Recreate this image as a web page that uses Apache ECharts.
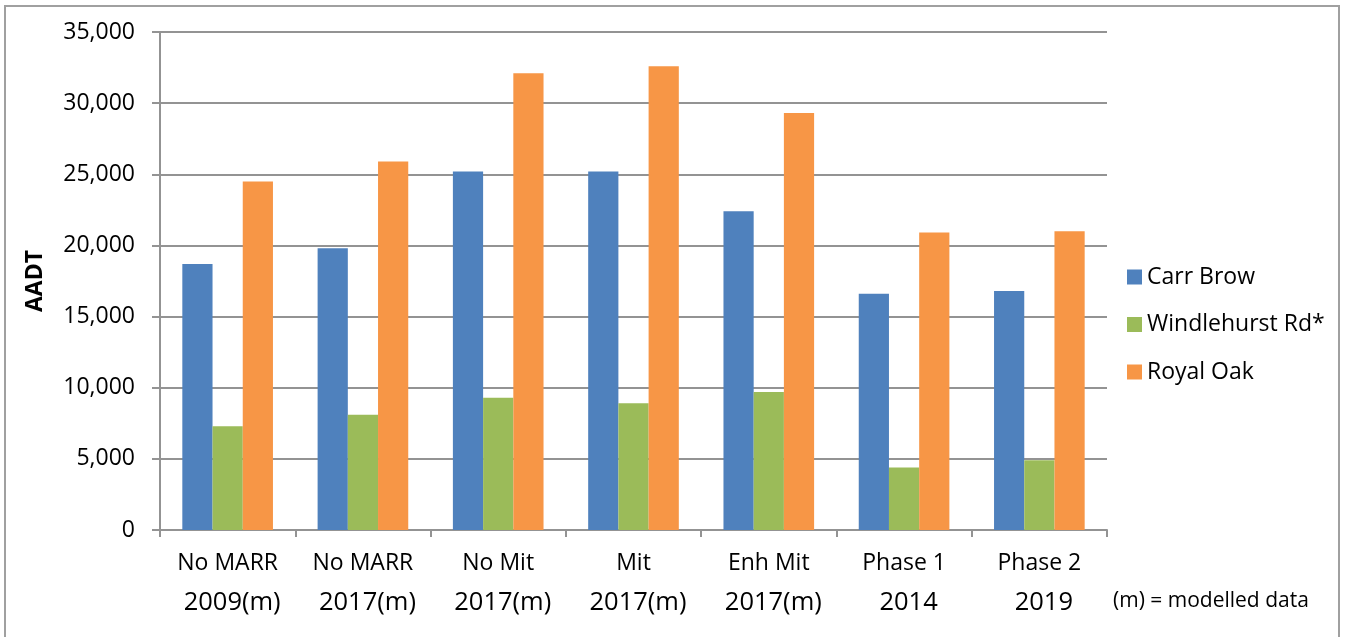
<!DOCTYPE html>
<html>
<head>
<meta charset="utf-8">
<script src="https://cdn.jsdelivr.net/npm/echarts@6/dist/echarts.min.js"></script>
<style>
  html, body { margin: 0; padding: 0; background: #fff; }
  #chart { width: 1346px; height: 637px; }
</style>
</head>
<body>
<div id="chart"></div>
<script>
// Scenario labels: name on the first line, year on the second
const scenarioNames = ['No MARR', 'No MARR', 'No Mit', 'Mit', 'Enh Mit', 'Phase 1', 'Phase 2'];
const scenarioYears = ['2009(m)', '2017(m)', '2017(m)', '2017(m)', '2017(m)', '2014', '2019'];

// Annual average daily traffic per site
const carrBrow = [18700, 19800, 25200, 25200, 22400, 16600, 16800];
const windlehurstRd = [7300, 8100, 9300, 8900, 9700, 4400, 4900];
const royalOak = [24500, 25900, 32100, 32600, 29300, 20900, 21000];

const seriesNames = ['Carr Brow', 'Windlehurst Rd*', 'Royal Oak'];
const seriesColors = ['#4F81BD', '#9BBB59', '#F79646'];

const yTicks = { min: 0, max: 35000, interval: 5000 };

const FONT = '"Open Sans", "Noto Sans", sans-serif';
const GRAY = '#939393';

const categories = scenarioNames.map((n, i) => n + '\n' + scenarioYears[i]);

const chart = echarts.init(document.getElementById('chart'), null, { renderer: 'canvas' });

const option = {
  backgroundColor: '#ffffff',
  animation: false,
  textStyle: { fontFamily: FONT, color: '#000' },
  grid: { left: 160, right: 239, top: 32, bottom: 107 },
  legend: {
    orient: 'vertical',
    left: 1122,
    top: 260,
    itemWidth: 15,
    itemHeight: 15,
    itemGap: 23.5,
    icon: 'rect',
    textStyle: { fontFamily: FONT, fontSize: 23, color: '#000', lineHeight: 24 },
    data: seriesNames
  },
  xAxis: {
    type: 'category',
    data: categories,
    axisLine: { show: true, lineStyle: { color: GRAY, width: 2 } },
    axisTick: { show: true, length: 7, lineStyle: { color: GRAY, width: 2 } },
    axisLabel: {
      margin: 13,
      interval: 0,
      formatter: function (v) {
        const parts = v.split('\n');
        return '{a|' + parts[0] + '}\n{b|' + parts[1] + '}';
      },
      rich: {
        a: { fontFamily: FONT, fontSize: 23, color: '#000', lineHeight: 40 },
        b: { fontFamily: FONT, fontSize: 25.5, color: '#000', lineHeight: 40, padding: [0, 0, 0, 9] }
      }
    }
  },
  yAxis: {
    type: 'value',
    min: yTicks.min,
    max: yTicks.max,
    interval: yTicks.interval,
    name: 'AADT',
    nameLocation: 'middle',
    nameRotate: 90,
    nameGap: 113,
    nameTextStyle: { fontFamily: FONT, fontSize: 23, fontWeight: 'bold', color: '#000' },
    axisLine: { show: true, lineStyle: { color: GRAY, width: 2 } },
    axisTick: { show: true, length: 8, lineStyle: { color: GRAY, width: 2 } },
    axisLabel: {
      margin: 25,
      fontFamily: FONT,
      fontSize: 23,
      color: '#000',
      formatter: function (v) { return v.toLocaleString('en-US'); }
    },
    splitLine: { show: true, lineStyle: { color: GRAY, width: 2 } }
  },
  series: [carrBrow, windlehurstRd, royalOak].map((data, i) => ({
    name: seriesNames[i],
    type: 'bar',
    data: data,
    barGap: '0%',
    barCategoryGap: '33%',
    itemStyle: { color: seriesColors[i] }
  })),
  graphic: [
    {
      type: 'rect',
      shape: { x: 5, y: 6, width: 1334, height: 700 },
      style: { fill: 'none', stroke: '#a0a0a0', lineWidth: 2 },
      silent: true
    },
    {
      type: 'text',
      left: 1113,
      top: 591,
      style: { text: '(m) = modelled data', fontFamily: FONT, fontSize: 21, fill: '#000' }
    }
  ]
};

chart.setOption(option);
</script>
</body>
</html>
